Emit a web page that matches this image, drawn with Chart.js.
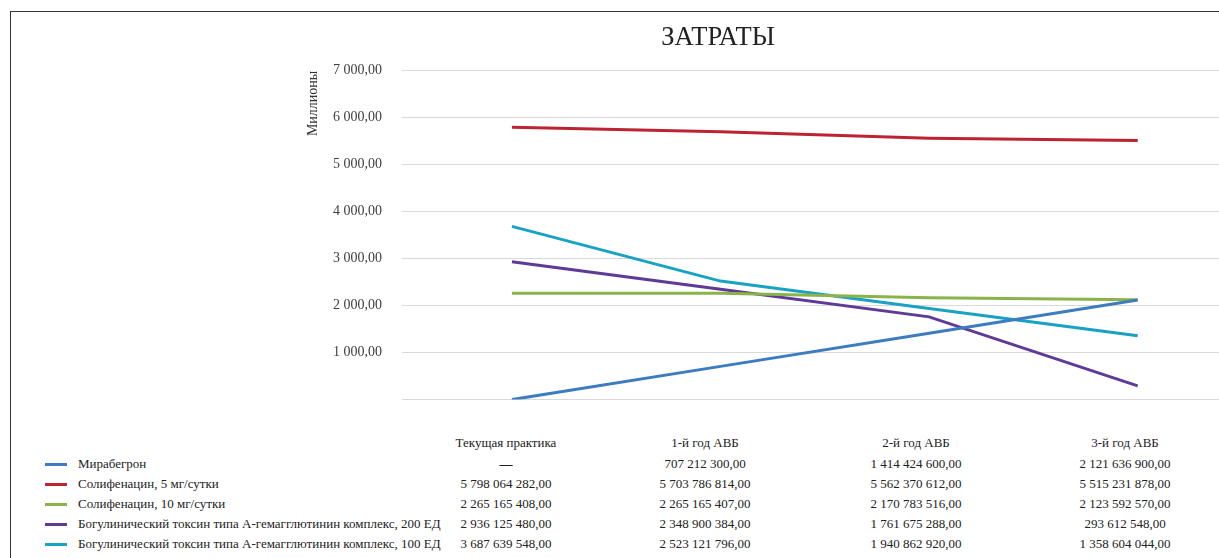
<!DOCTYPE html>
<html lang="ru">
<head>
<meta charset="utf-8">
<script src="https://cdn.jsdelivr.net/npm/chart.js@4.4.1/dist/chart.umd.min.js"></script>
<style>
  html, body { margin:0; padding:0; background:#fff; }
  body { width:1219px; height:558px; overflow:hidden; position:relative; font-family:"Liberation Serif", serif; }
  #frame { position:absolute; left:10px; top:11px; width:1400px; height:800px;
           border-left:1.5px solid #333; border-top:1.5px solid #333; box-sizing:border-box; }
  #wrap { position:absolute; left:194px; top:0; width:1060px; height:428px; }
  .cell { position:absolute; height:16px; line-height:16px; font-size:13px; color:#222; white-space:nowrap; }
  .num { width:220px; text-align:center; }
  .key { position:absolute; width:22px; height:3px; }
</style>
</head>
<body>
<div id="frame"></div>
<div id="wrap"><canvas id="c"></canvas></div>
<div id="table"></div>
<script>
// ---- data ----
const title = 'ЗАТРАТЫ';
const yAxisTitle = 'Миллионы';
const categories = ['Текущая практика', '1-й год АВБ', '2-й год АВБ', '3-й год АВБ'];
const seriesNames = [
  'Мирабегрон',
  'Солифенацин, 5 мг/сутки',
  'Солифенацин, 10 мг/сутки',
  'Богулинический токсин типа А-гемагглютинин комплекс, 200 ЕД',
  'Богулинический токсин типа А-гемагглютинин комплекс, 100 ЕД'
];
const mirabegron = [0, 707212300, 1414424600, 2121636900];
const solifenacin5 = [5798064282, 5703786814, 5562370612, 5515231878];
const solifenacin10 = [2265165408, 2265165407, 2170783516, 2123592570];
const botox200 = [2936125480, 2348900384, 1761675288, 293612548];
const botox100 = [3687639548, 2523121796, 1940862920, 1358604044];
const yTicks = [0, 1000, 2000, 3000, 4000, 5000, 6000, 7000];
const seriesColors = ['#3D7CC0', '#BC2333', '#8BB34B', '#5F3A97', '#18A2C3'];

const allSeries = [mirabegron, solifenacin5, solifenacin10, botox200, botox100];

function fmt(v) {
  const s = Math.abs(v).toFixed(2).split('.');
  const int = s[0].replace(/\B(?=(\d{3})+(?!\d))/g, ' ');
  return (v < 0 ? '-' : '') + int + ',' + s[1];
}

// categories are placed at index positions 0..3 on the x scale
const datasets = allSeries.map((arr, i) => ({
  label: seriesNames[i],
  data: arr.map((v, j) => ({ x: j, y: v / 1e6 })),
  borderColor: seriesColors[i],
  backgroundColor: seriesColors[i],
  borderWidth: 3,
  pointRadius: 0,
  tension: 0,
  fill: false
}));

const serif = '"Liberation Serif", "Times New Roman", serif';

new Chart(document.getElementById('c'), {
  type: 'line',
  data: { labels: categories, datasets },
  options: {
    responsive: true,
    maintainAspectRatio: false,
    animation: false,
    layout: { padding: { left: 0, right: 12, top: 10, bottom: 22 } },
    plugins: {
      legend: { display: false },
      tooltip: { enabled: false },
      title: {
        display: true, text: title, color: '#222',
        font: { family: serif, size: 26.5, weight: 'normal' },
        padding: { top: 12, bottom: 17 }
      }
    },
    scales: {
      x: { type: 'linear', display: false, min: -0.527, max: 3.5 },
      y: {
        min: 0, max: 7000,
        afterFit: s => { s.width = 208; },
        afterBuildTicks: s => { s.ticks = yTicks.map(v => ({ value: v })); },
        ticks: {
          padding: 20, color: '#404040',
          font: { family: serif, size: 14 },
          callback: v => v === 0 ? '' : fmt(v)
        },
        grid: { color: '#d9d9d9', lineWidth: 1, drawTicks: false },
        border: { display: false },
        title: {
          display: true, text: yAxisTitle, align: 'end', color: '#333',
          font: { family: serif, size: 14 },
          padding: { top: 110.6, bottom: 0 }
        }
      }
    }
  }
});

// ---- data table with legend keys ----
const table = document.getElementById('table');
const colCenters = [506, 705, 916, 1125];
const headerY = 443, rowY0 = 464, rowStep = 20;
function addCell(text, cls, left, cy) {
  const d = document.createElement('div');
  d.className = 'cell ' + cls;
  d.textContent = text;
  d.style.left = left + 'px';
  d.style.top = (cy - 8) + 'px';
  table.appendChild(d);
  return d;
}
categories.forEach((c, j) => addCell(c, 'num', colCenters[j] - 110, headerY));
allSeries.forEach((arr, i) => {
  const cy = rowY0 + i * rowStep;
  const k = document.createElement('div');
  k.className = 'key';
  k.style.left = '45px';
  k.style.top = (cy - 1.5) + 'px';
  k.style.background = seriesColors[i];
  table.appendChild(k);
  addCell(seriesNames[i], '', 78, cy);
  arr.forEach((v, j) => {
    const d = addCell(v === 0 ? '—' : fmt(v), 'num', colCenters[j] - 110, cy);
    if (v === 0) d.style.fontWeight = 'bold';
  });
});
</script>
</body>
</html>
